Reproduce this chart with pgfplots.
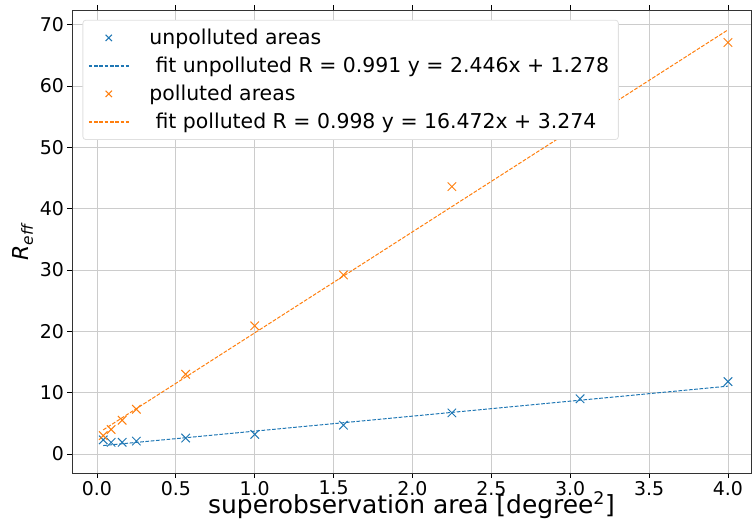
\documentclass[border=0pt]{standalone}
\usepackage{fontspec}
\setmainfont{DejaVu Sans}
\usepackage{pgfplots}
\pgfplotsset{compat=1.18}
\definecolor{cA}{HTML}{1F77B4}
\definecolor{cB}{HTML}{FF7F0E}
\pgfplotsset{
  legmarkA/.style={legend image code/.code={\draw[draw=cA, mark options={draw=cA, line width=1pt}, only marks, mark=x, mark size=4.5bp] plot coordinates {(20bp,0bp)};}},
  legmarkB/.style={legend image code/.code={\draw[draw=cB, mark options={draw=cB, line width=1pt}, only marks, mark=x, mark size=4.5bp] plot coordinates {(20bp,0bp)};}},
  leglineA/.style={legend image code/.code={\pgfsetstrokecolor{cA}\draw[color=cA, draw=cA, line width=1.4pt, dash pattern=on 3.7bp off 1.6bp] (0bp,0bp) -- (40bp,0bp);}},
  leglineB/.style={legend image code/.code={\pgfsetstrokecolor{cB}\draw[color=cB, draw=cB, line width=1.4pt, dash pattern=on 3.7bp off 1.6bp] (0bp,0bp) -- (40bp,0bp);}},
}
\begin{document}
\begin{tikzpicture}
\begin{axis}[name=ax, scale only axis, width=679bp, height=463bp,
  xmin=-0.158, xmax=4.146, ymin=-3.1, ymax=72.4,
  xtick={0,0.5,1,1.5,2,2.5,3,3.5,4}, ytick={0,10,20,30,40,50,60,70},
  xticklabel style={/pgf/number format/.cd, fixed, fixed zerofill, precision=1},
  /pgf/number format/assume math mode=true,
  tick label style={font=\fontsize{19}{23}\selectfont},
  xlabel style={font=\fontsize{25}{30}\selectfont, at={(axis description cs:0.5,0)}, anchor=base, yshift=-40bp},
  ylabel style={font=\fontsize{22}{26}\selectfont},
  grid=major, major grid style={black!20, line width=0.8pt},
  tick align=outside, major tick length=4.5bp, tick style={black, line width=0.8pt},
  axis line style={black!80, line width=0.8pt},
  xlabel={superobservation area [degree\textsuperscript{2}]},
  ylabel={\textit{R}\textsubscript{\textit{eff}}},
  legend style={name=leg, at={(0.016,0.978)}, anchor=north west, draw=none,
    fill=white, font=\fontsize{20.5}{24}\selectfont, row sep=7bp, inner ysep=7bp, inner xsep=5bp,
    nodes={inner xsep=4bp}},
  legend cell align=left,
]
\addplot[only marks, mark=x, color=cA, mark size=6bp, line width=1pt, legmarkA]
  coordinates {(0.04,2.3)(0.09,1.9)(0.16,1.9)(0.25,2.1)(0.5625,2.6)(1,3.2)(1.5625,4.7)(2.25,6.7)(3.0625,9.0)(4,11.8)};
\addlegendentry{\hspace{16bp}unpolluted areas}
\addplot[color=cA, line width=1pt, dash pattern=on 3.7bp off 1.6bp, leglineA]
  coordinates {(0.04,1.376)(4,11.062)};
\addlegendentry{\hspace{16bp}\hspace{0.3em}fit unpolluted R = 0.991 y = 2.446x + 1.278}
\addplot[only marks, mark=x, color=cB, mark size=6bp, line width=1pt, legmarkB]
  coordinates {(0.04,3.0)(0.09,4.0)(0.16,5.5)(0.25,7.3)(0.5625,13.0)(1,20.9)(1.5625,29.2)(2.25,43.6)(3.0625,53.5)(4,67.1)};
\addlegendentry{\hspace{16bp}polluted areas}
\addplot[color=cB, line width=1pt, dash pattern=on 3.7bp off 1.6bp, leglineB]
  coordinates {(0.04,3.933)(4,69.162)};
\addlegendentry{\hspace{16bp}\hspace{0.3em}fit polluted R = 0.998 y = 16.472x + 3.274}
\end{axis}
\draw[black!12, line width=0.8pt, rounded corners=3pt] (leg.south west) rectangle (leg.north east);
\pgfresetboundingbox
\path[use as bounding box] ([xshift=-72bp,yshift=-47bp]ax.south west) rectangle ([xshift=1bp,yshift=10bp]ax.north east);
\end{tikzpicture}
\end{document}
